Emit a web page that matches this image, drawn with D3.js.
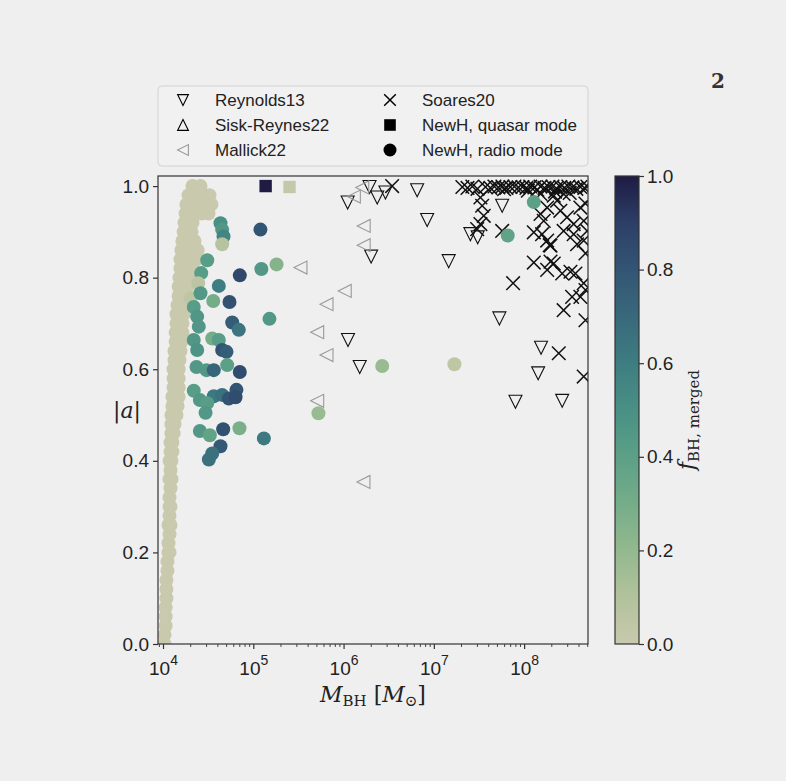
<!DOCTYPE html>
<html>
<head>
<meta charset="utf-8">
<script src="https://cdnjs.cloudflare.com/ajax/libs/d3/7.8.5/d3.min.js"></script>
<style>
html, body { margin: 0; padding: 0; background: #efefef; }
svg { display: block; }
</style>
</head>
<body>
<script>
// ---- data: [M_BH (Msun), |a|] or [M_BH, |a|, f_merged] ----
var seedBand = [
  [1.04e4,0.00],[1.04e4,0.02],[1.07e4,0.04],[1.07e4,0.06],[1.07e4,0.08],[1.09e4,0.10],
  [1.09e4,0.12],[1.09e4,0.14],[1.12e4,0.16],[1.12e4,0.18],[1.15e4,0.20],[1.18e4,0.20],
  [1.15e4,0.22],[1.18e4,0.24],[1.15e4,0.26],[1.21e4,0.26],[1.18e4,0.28],[1.18e4,0.30],
  [1.21e4,0.30],[1.18e4,0.32],[1.21e4,0.34],[1.18e4,0.36],[1.24e4,0.36],[1.21e4,0.38],
  [1.18e4,0.40],[1.24e4,0.40],[1.21e4,0.42],[1.27e4,0.42],[1.21e4,0.44],[1.27e4,0.44],
  [1.24e4,0.46],[1.31e4,0.46],[1.24e4,0.48],[1.34e4,0.48],[1.24e4,0.50],[1.41e4,0.50],
  [1.27e4,0.52],[1.45e4,0.52],[1.27e4,0.54],[1.49e4,0.54],[1.31e4,0.56],[1.49e4,0.56],
  [1.31e4,0.58],[1.49e4,0.58],[1.31e4,0.60],[1.49e4,0.60],[1.34e4,0.62],[1.52e4,0.62],
  [1.34e4,0.64],[1.56e4,0.64],[1.38e4,0.66],[1.60e4,0.66],[1.38e4,0.68],[1.64e4,0.68],
  [1.41e4,0.70],[1.64e4,0.70],[1.41e4,0.72],[1.69e4,0.72],[1.45e4,0.74],[1.73e4,0.74],
  [1.49e4,0.76],[1.82e4,0.76],[1.49e4,0.78],[1.87e4,0.78],[1.52e4,0.80],[1.92e4,0.80],
  [1.56e4,0.82],[1.87e4,0.82],[2.12e4,0.82],[1.56e4,0.84],[1.92e4,0.84],[2.35e4,0.84],
  [1.60e4,0.86],[1.97e4,0.86],[2.41e4,0.86],[1.64e4,0.88],[2.02e4,0.88],[2.23e4,0.88],
  [1.69e4,0.90],[2.07e4,0.90],[1.73e4,0.92],[2.12e4,0.92],
  [1.78e4,0.94],[2.18e4,0.94],[2.67e4,0.94],[3.19e4,0.94],
  [1.82e4,0.96],[2.23e4,0.96],[2.74e4,0.96],[3.44e4,0.96],
  [1.92e4,0.98],[2.35e4,0.98],[2.88e4,0.98],[3.27e4,0.98],
  [2.12e4,1.00],[2.60e4,1.00]
];

var radioMerged = [
  [4.33e4,0.919,0.50],[4.52e4,0.905,0.45],[4.68e4,0.890,0.56],[4.52e4,0.873,0.08],
  [1.20e5,0.905,0.80],[3.09e4,0.838,0.42],[7.09e4,0.805,0.86],[1.23e5,0.819,0.45],
  [1.81e5,0.829,0.25],[2.65e4,0.810,0.42],[2.45e4,0.788,0.06],[4.15e4,0.782,0.60],
  [2.02e4,0.755,0.05],[2.60e4,0.766,0.45],[3.60e4,0.749,0.30],[5.45e4,0.747,0.82],
  [2.19e4,0.736,0.42],[5.84e4,0.702,0.76],[6.91e4,0.686,0.64],[1.51e5,0.710,0.45],
  [2.39e4,0.715,0.46],[2.49e4,0.693,0.46],[3.51e4,0.667,0.30],[4.15e4,0.664,0.42],
  [2.19e4,0.664,0.46],[2.39e4,0.642,0.48],[4.52e4,0.642,0.80],[5.05e4,0.638,0.76],
  [5.14e4,0.609,0.40],[2.35e4,0.605,0.45],[3.03e4,0.598,0.45],[3.65e4,0.598,0.72],
  [7.09e4,0.594,0.84],[2.19e4,0.553,0.42],[3.65e4,0.541,0.62],[4.52e4,0.544,0.66],
  [5.36e4,0.536,0.80],[6.51e4,0.555,0.80],[6.36e4,0.539,0.84],[2.56e4,0.533,0.45],
  [3.09e4,0.526,0.42],[2.96e4,0.505,0.45],[2.56e4,0.465,0.45],[3.30e4,0.456,0.38],
  [4.64e4,0.469,0.82],[7.03e4,0.471,0.28],[1.31e5,0.449,0.62],[4.33e4,0.432,0.78],
  [3.51e4,0.416,0.66],[3.22e4,0.403,0.66],
  [5.27e5,0.504,0.18],[2.68e6,0.607,0.18],[1.69e7,0.611,0.05],[6.58e7,0.892,0.38],
  [1.28e8,0.965,0.40]
];

var quasarMode = [[1.37e5,1.000,1.00],[2.52e5,0.998,0.02]];

var reynolds13 = [
  [1.94e6,0.998],[1.11e6,0.964],[2.36e6,0.975],[2.91e6,0.986],[6.53e6,0.991],[8.43e6,0.926],
  [5.71e7,0.957],[2.54e7,0.895],[3.06e7,0.888],[2.02e6,0.846],[1.46e7,0.836],[5.32e7,0.711],
  [1.12e6,0.664],[1.51e6,0.605],[1.54e8,0.647],[1.43e8,0.591],[8.02e7,0.529],[2.64e8,0.531]
];

var siskReynes22 = [];

var mallick22 = [
  [1.61e6,0.997],[1.30e6,0.977],[1.67e6,0.913],[1.67e6,0.871],[3.33e5,0.822],[1.03e6,0.771],
  [6.47e5,0.742],[5.10e5,0.681],[6.47e5,0.631],[5.10e5,0.531],[1.66e6,0.354]
];

var soares20 = [
  [2.07e7,0.998],[2.36e7,0.996],[2.67e7,0.999],[3.04e7,0.994],[3.73e7,0.998],[4.23e7,0.996],
  [4.69e7,0.999],[5.19e7,0.997],[5.75e7,0.999],[6.37e7,0.996],[7.05e7,0.998],[7.81e7,0.999],
  [8.65e7,0.997],[9.58e7,0.998],[1.06e8,0.996],[1.17e8,0.999],[1.30e8,0.997],[1.52e8,0.999],
  [1.68e8,0.996],[1.86e8,0.998],[2.06e8,0.999],[2.28e8,0.995],[2.52e8,0.998],[2.79e8,0.996],
  [3.09e8,0.999],[3.43e8,0.997],[3.79e8,0.994],[4.20e8,0.998],[4.65e8,0.996],[5.02e8,0.999],
  [3.45e6,1.000],[1.10e8,0.990],[1.40e8,0.992],[6.00e7,0.993],[2.20e8,0.988],[3.20e8,0.985],
  [3.28e7,0.975],[3.43e7,0.957],[3.57e7,0.935],[3.28e7,0.917],[3.02e7,0.906],[5.71e7,0.902],
  [1.28e8,0.899],[1.58e8,0.895],[1.80e8,0.881],[1.96e8,0.870],[1.52e8,0.939],[1.80e8,0.953],
  [2.13e8,0.979],[2.32e8,0.968],[2.52e8,0.946],[2.99e8,0.932],[3.54e8,0.917],[4.20e8,0.953],
  [4.57e8,0.924],[3.86e8,0.873],[2.74e8,0.902],[3.54e8,0.895],[4.57e8,0.881],[1.52e8,0.983],
  [1.65e8,0.924],[2.74e8,0.983],[4.99e8,0.902],[1.92e8,0.871],[4.78e8,0.853],[1.28e8,0.833],
  [1.96e8,0.835],[1.80e8,0.817],[2.13e8,0.831],[2.64e8,0.809],[3.26e8,0.813],[3.70e8,0.809],
  [4.57e8,0.788],[3.40e8,0.758],[4.20e8,0.758],[7.55e7,0.788],[2.74e8,0.729],[4.78e8,0.707],
  [2.42e8,0.635],[4.57e8,0.584],[4.78e8,0.962],[4.78e8,0.773]
];

var xMajor = [1e4, 1e5, 1e6, 1e7, 1e8];
var yTicks = [0, 0.2, 0.4, 0.6, 0.8, 1.0];
var cbarTicks = [0, 0.2, 0.4, 0.6, 0.8, 1.0];
var cmapStops = [0, 0.1, 0.2, 0.3, 0.4, 0.5, 0.6, 0.7, 0.8, 0.9, 1.0];
var cmapColors = ["#c9c9ad", "#b2c29c", "#93b98e", "#75ad89", "#5ca087", "#499085",
                  "#3e7d81", "#38697b", "#335574", "#2c3f66", "#1f1b44"];

var legendLeft = [
  {label: "Reynolds13", shape: "down", color: "#000"},
  {label: "Sisk-Reynes22", shape: "up", color: "#000"},
  {label: "Mallick22", shape: "left", color: "#999"}];
var legendRight = [
  {label: "Soares20", shape: "cross"},
  {label: "NewH, quasar mode", shape: "square"},
  {label: "NewH, radio mode", shape: "circle"}];

// ---- layout ----
var width = 786, height = 781;
var plotL = 158, plotR = 588, plotT = 176, plotB = 644;
var sans = "'Liberation Sans', Arial, sans-serif";
var serif = "'DejaVu Serif', serif";
var dotR = 7;

var svg = d3.select("body").append("svg")
    .attr("width", width)
    .attr("height", height);

svg.append("rect")
    .attr("width", width)
    .attr("height", height)
    .attr("fill", "#efefef");

var x = d3.scaleLog().domain([8.8e3, 5.1e8]).range([plotL, plotR]);
var y = d3.scaleLinear().domain([0, 1.022]).range([plotB, plotT]);
var cmap = d3.scaleLinear().domain(cmapStops).range(cmapColors).interpolate(d3.interpolateRgb);

// marker paths
function markerPath(shape, s) {
  if (shape == "down") return "M" + (-s) + "," + (-s) + "L" + s + "," + (-s) + "L0," + s + "Z";
  if (shape == "up") return "M" + (-s) + "," + s + "L" + s + "," + s + "L0," + (-s) + "Z";
  if (shape == "left") return "M" + (-s) + ",0L" + s + "," + (-s) + "L" + s + "," + s + "Z";
  if (shape == "cross") return "M" + (-s) + "," + (-s) + "L" + s + "," + s + "M" + (-s) + "," + s + "L" + s + "," + (-s);
  if (shape == "square") return "M" + (-s) + "," + (-s) + "H" + s + "V" + s + "H" + (-s) + "Z";
}

var defs = svg.append("defs");
defs.append("clipPath").attr("id", "plotclip")
  .append("rect").attr("x", plotL).attr("y", plotT).attr("width", plotR - plotL).attr("height", plotB - plotT);

var plot = svg.append("g").attr("clip-path", "url(#plotclip)");

function pos(d) { return "translate(" + x(d[0]) + "," + y(d[1]) + ")"; }

// observations
plot.append("g").selectAll("path").data(reynolds13).enter().append("path")
    .attr("transform", pos)
    .attr("d", markerPath("down", 6.5))
    .attr("fill", "none").attr("stroke", "#111").attr("stroke-width", 1.1);

plot.append("g").selectAll("path").data(siskReynes22).enter().append("path")
    .attr("transform", pos)
    .attr("d", markerPath("up", 6.5))
    .attr("fill", "none").attr("stroke", "#111").attr("stroke-width", 1.1);

plot.append("g").selectAll("path").data(mallick22).enter().append("path")
    .attr("transform", pos)
    .attr("d", markerPath("left", 6.5))
    .attr("fill", "none").attr("stroke", "#999").attr("stroke-width", 1.1);

plot.append("g").selectAll("path").data(soares20).enter().append("path")
    .attr("transform", pos)
    .attr("d", markerPath("cross", 6.8))
    .attr("fill", "none").attr("stroke", "#111").attr("stroke-width", 1.5);

// simulation
plot.append("g").selectAll("path").data(quasarMode).enter().append("path")
    .attr("transform", pos)
    .attr("d", markerPath("square", 6.2))
    .attr("fill", function(d) { return cmap(d[2]); });

plot.append("g").selectAll("circle").data(seedBand).enter().append("circle")
    .attr("cx", function(d) { return x(d[0]); })
    .attr("cy", function(d) { return y(d[1]); })
    .attr("r", dotR)
    .attr("fill", cmap(0));

plot.append("g").selectAll("circle").data(radioMerged).enter().append("circle")
    .attr("cx", function(d) { return x(d[0]); })
    .attr("cy", function(d) { return y(d[1]); })
    .attr("r", dotR)
    .attr("fill", function(d) { return cmap(d[2]); });

// frame
svg.append("rect")
    .attr("x", plotL).attr("y", plotT)
    .attr("width", plotR - plotL).attr("height", plotB - plotT)
    .attr("fill", "none").attr("stroke", "#333").attr("stroke-width", 1.2);

// y axis
var yAxis = svg.append("g")
    .attr("transform", "translate(" + plotL + ",0)")
    .call(d3.axisLeft(y).tickValues(yTicks).tickFormat(d3.format(".1f")).tickSize(5).tickPadding(4));
yAxis.select(".domain").remove();
yAxis.selectAll("line").attr("stroke", "#333").attr("stroke-width", 1.2);
yAxis.selectAll("text").attr("font-family", sans).attr("font-size", 19).attr("fill", "#222");

// x axis (minor + major)
var xMinor = x.ticks().filter(function(t) { return xMajor.indexOf(t) < 0; });
var xMinorAxis = svg.append("g")
    .attr("transform", "translate(0," + plotB + ")")
    .call(d3.axisBottom(x).tickValues(xMinor).tickFormat("").tickSize(3));
xMinorAxis.select(".domain").remove();
xMinorAxis.selectAll("line").attr("stroke", "#333").attr("stroke-width", 0.9);

var xAxis = svg.append("g")
    .attr("transform", "translate(0," + plotB + ")")
    .call(d3.axisBottom(x).tickValues(xMajor).tickFormat("").tickSize(5));
xAxis.select(".domain").remove();
xAxis.selectAll("line").attr("stroke", "#333").attr("stroke-width", 1.2);
xAxis.selectAll(".tick").append("text")
    .attr("y", 31)
    .attr("text-anchor", "middle")
    .attr("font-family", sans).attr("font-size", 19).attr("fill", "#222")
    .each(function(d) {
      var t = d3.select(this);
      t.append("tspan").text("10");
      t.append("tspan").attr("dy", -10).attr("font-size", 14).text(Math.round(Math.log10(d)));
    });

// axis labels
var xl = svg.append("text")
    .attr("x", (plotL + plotR) / 2).attr("y", 702)
    .attr("text-anchor", "middle")
    .attr("font-family", serif).attr("font-size", 22).attr("fill", "#222");
xl.append("tspan").attr("font-style", "italic").text("M");
xl.append("tspan").attr("font-size", 15).attr("dy", 4).text("BH");
xl.append("tspan").attr("dy", -4).text(" [");
xl.append("tspan").attr("font-style", "italic").text("M");
xl.append("tspan").attr("font-size", 15).attr("dy", 4).text("\u2299");
xl.append("tspan").attr("dy", -4).text("]");

var yl = svg.append("text")
    .attr("x", 127).attr("y", 418)
    .attr("text-anchor", "middle")
    .attr("font-family", serif).attr("font-size", 22).attr("fill", "#222");
yl.append("tspan").text("|");
yl.append("tspan").attr("font-style", "italic").text("a");
yl.append("tspan").text("|");

// colorbar
var cbX = 615, cbW = 24;
var cy = d3.scaleLinear().domain([0, 1]).range([plotB, plotT]);
var grad = defs.append("linearGradient")
    .attr("id", "cbgrad").attr("x1", 0).attr("y1", 1).attr("x2", 0).attr("y2", 0);
grad.selectAll("stop").data(cmapStops).enter().append("stop")
    .attr("offset", function(d) { return d; })
    .attr("stop-color", function(d) { return cmap(d); });
svg.append("rect")
    .attr("x", cbX).attr("y", plotT).attr("width", cbW).attr("height", plotB - plotT)
    .attr("fill", "url(#cbgrad)").attr("stroke", "#333").attr("stroke-width", 1.2);
var cAxis = svg.append("g")
    .attr("transform", "translate(" + (cbX + cbW) + ",0)")
    .call(d3.axisRight(cy).tickValues(cbarTicks).tickFormat(d3.format(".1f")).tickSize(5).tickPadding(3));
cAxis.select(".domain").remove();
cAxis.selectAll("line").attr("stroke", "#333").attr("stroke-width", 1.2);
cAxis.selectAll("text").attr("font-family", sans).attr("font-size", 19).attr("fill", "#222");

var cl = svg.append("text")
    .attr("transform", "translate(694,420) rotate(-90)")
    .attr("text-anchor", "middle")
    .attr("font-family", serif).attr("font-size", 22).attr("fill", "#222");
cl.append("tspan").attr("font-style", "italic").text("f");
cl.append("tspan").attr("font-size", 15).attr("dy", 5).text("BH, merged");

// legend
var lg = svg.append("g");
lg.append("rect")
    .attr("x", 158).attr("y", 86).attr("width", 430).attr("height", 80).attr("rx", 4)
    .attr("fill", "#f1f1f1").attr("stroke", "#d2d2d2").attr("stroke-width", 1);

lg.selectAll(".lrow").data(legendLeft).enter().append("g")
    .attr("transform", function(d, i) { return "translate(183," + (100 + i * 25) + ")"; })
    .each(function(d) {
      var g = d3.select(this);
      g.append("path").attr("d", markerPath(d.shape, 5.4))
        .attr("fill", "none").attr("stroke", d.color).attr("stroke-width", 1.1);
      g.append("text").attr("x", 32).attr("y", 6)
        .attr("font-family", sans).attr("font-size", 17).attr("fill", "#222").text(d.label);
    });

lg.selectAll(".rrow").data(legendRight).enter().append("g")
    .attr("transform", function(d, i) { return "translate(390," + (100 + i * 25) + ")"; })
    .each(function(d) {
      var g = d3.select(this);
      if (d.shape == "circle") {
        g.append("circle").attr("r", 6.5).attr("fill", "#000");
      } else if (d.shape == "square") {
        g.append("path").attr("d", markerPath("square", 5.8)).attr("fill", "#000");
      } else {
        g.append("path").attr("d", markerPath("cross", 5.8))
          .attr("fill", "none").attr("stroke", "#000").attr("stroke-width", 1.5);
      }
      g.append("text").attr("x", 32).attr("y", 6)
        .attr("font-family", sans).attr("font-size", 17).attr("fill", "#222").text(d.label);
    });

// panel number
svg.append("text")
    .attr("x", 718).attr("y", 88)
    .attr("text-anchor", "middle")
    .attr("font-family", serif).attr("font-weight", "bold").attr("font-size", 20)
    .attr("fill", "#333").text("2");
</script>
</body>
</html>
